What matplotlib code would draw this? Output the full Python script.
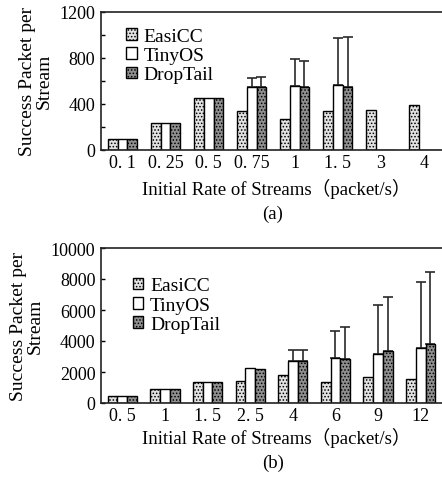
import numpy as np
import matplotlib
matplotlib.use("Agg")
import matplotlib.pyplot as plt

plt.rcParams['font.family'] = ['Liberation Serif', 'Noto Sans CJK SC', 'DejaVu Sans']
plt.rcParams['hatch.linewidth'] = 0.7

# ---- data (a) ----
cats_a = ["0. 1", "0. 25", "0. 5", "0. 75", "1", "1. 5", "3", "4"]
easicc_a = [90, 230, 450, 333, 264, 336, 348, 386]
tinyos_a = [90, 230, 450, 542, 556, 559, 0, 0]
droptail_a = [90, 230, 450, 548, 542, 545, 0, 0]
tinyos_a_top = [None, None, None, 623, 791, 968, None, None]
droptail_a_top = [None, None, None, 635, 774, 983, None, None]
yticks_a = [0, 400, 800, 1200]

# ---- data (b) ----
cats_b = ["0. 5", "1", "1. 5", "2. 5", "4", "6", "9", "12"]
easicc_b = [430, 900, 1355, 1400, 1785, 1376, 1656, 1527]
tinyos_b = [430, 900, 1355, 2258, 2731, 2925, 3140, 3548]
droptail_b = [430, 900, 1355, 2215, 2731, 2839, 3333, 3785]
tinyos_b_top = [None, None, None, None, 3441, 4645, 6344, 7820]
droptail_b_top = [None, None, None, None, 3441, 4882, 6817, 8420]
yticks_b = [0, 2000, 4000, 6000, 8000, 10000]

series_names = ["EasiCC", "TinyOS", "DropTail"]

W, H = 442, 485
fig = plt.figure(figsize=(W / 100, H / 100), dpi=100)

def px_axes(left, right, top, bottom):
    return fig.add_axes([left / W, 1 - bottom / H, (right - left) / W, (bottom - top) / H])

styles = [
    dict(facecolor='#e2e2e2', hatch='.....'),
    dict(facecolor='white', hatch=None),
    dict(facecolor='#8f8f8f', hatch='.....'),
]

def draw(ax, cats, vals, tops, yticks, ymax, minor_step, width, legend_anchor):
    x = np.arange(len(cats))
    offs = [-width, 0, width]
    for i, (v, st) in enumerate(zip(vals, styles)):
        ax.bar(x + offs[i], v, width, edgecolor='black', linewidth=1.0,
               facecolor=st['facecolor'], hatch=st['hatch'],
               label=series_names[i], zorder=2)
    # error bars (upper only)
    for i, (v, t) in enumerate(zip(vals[1:], tops), start=1):
        xs, ys, up = [], [], []
        for k, (vv, tt) in enumerate(zip(v, t)):
            if tt is not None:
                xs.append(x[k] + offs[i]); ys.append(vv); up.append(tt - vv)
        ax.errorbar(xs, ys, yerr=[np.zeros(len(up)), up], fmt='none',
                    ecolor='#2a2a2a', elinewidth=1.2, capsize=3.3, capthick=1.2,
                    zorder=1)
    ax.set_xlim(-0.5, len(cats) - 0.5)
    ax.set_ylim(0, ymax)
    ax.set_xticks(x)
    ax.set_xticklabels(cats, fontsize=13)
    ax.tick_params(axis='x', length=0, pad=3)
    ax.set_yticks(yticks)
    ax.set_yticklabels([str(t) for t in yticks], fontsize=13)
    ax.set_yticks(np.arange(0, ymax + 1, minor_step), minor=True)
    ax.tick_params(axis='y', which='both', direction='in', length=3, width=1, pad=4)
    for s in ax.spines.values():
        s.set_linewidth(1.2)
        s.set_color('#222222')
    ax.spines['right'].set_visible(False)
    ax.legend(loc='upper left', bbox_to_anchor=legend_anchor, frameon=False,
              fontsize=14, handlelength=0.55, handleheight=0.55,
              handletextpad=0.35, labelspacing=0.12, borderaxespad=0)
    ax.set_ylabel("Success Packet per\nStream", fontsize=14, labelpad=5,
                  linespacing=1.0)

ax1 = px_axes(101, 445.5, 12.7, 150.7)
draw(ax1, cats_a, [easicc_a, tinyos_a, droptail_a], [tinyos_a_top, droptail_a_top],
     yticks_a, 1200, 200, 0.225, (0.05, 0.94))

ax2 = px_axes(101, 442, 249, 404)
draw(ax2, cats_b, [easicc_b, tinyos_b, droptail_b], [tinyos_b_top, droptail_b_top],
     yticks_b, 10000, 2000, 0.228, (0.07, 0.86))

fig.text(276 / W, 1 - 189 / H, "Initial Rate of Streams\uff08packet/s\uff09", ha='center', va='center', fontsize=13.5)
fig.text(273 / W, 1 - 214 / H, "(a)", ha='center', va='center', fontsize=13.5)
fig.text(276 / W, 1 - 438 / H, "Initial Rate of Streams\uff08packet/s\uff09", ha='center', va='center', fontsize=13.5)
fig.text(273 / W, 1 - 463 / H, "(b)", ha='center', va='center', fontsize=13.5)

fig.savefig("out.png", dpi=100)
